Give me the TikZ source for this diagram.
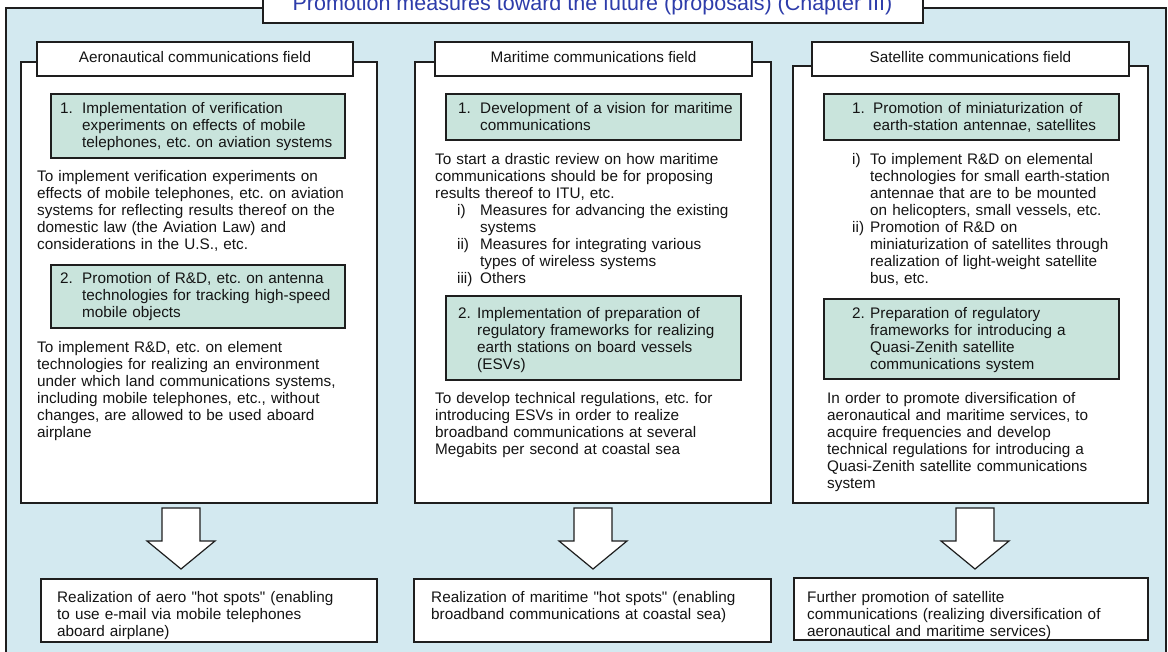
\documentclass[tikz,border=0pt]{standalone}
\usepackage{fontspec}
\setmainfont{Liberation Sans}
\definecolor{panelblue}{RGB}{211,233,240}
\definecolor{greenbox}{RGB}{201,228,220}
\definecolor{titleblue}{RGB}{45,60,170}
\definecolor{ink}{RGB}{20,20,20}
\definecolor{edge}{RGB}{30,30,30}
\newcommand{\bodyfont}{\fontsize{15.3}{17}\selectfont\frenchspacing}
\newcommand{\dq}{\XeTeXglyph\XeTeXglyphindex "quotedbl"\relax}
\begin{document}
\frenchspacing
\begin{tikzpicture}[x=1pt,y=-1pt,
  panel/.style={fill=panelblue,draw=edge,line width=1.2pt},
  box/.style={fill=white,draw=edge,line width=1.2pt},
  gbox/.style={fill=greenbox,draw=edge,line width=1.2pt},
  hdr/.style={fill=white,draw=edge,line width=1.2pt,font=\bodyfont,text=ink,
    minimum height=34pt,inner sep=0pt,text height=11pt,text depth=3pt},
  txt/.style={anchor=north west,inner sep=0pt,font=\bodyfont,text=ink,align=left,
    text width=400pt,execute at begin node={\rule{0pt}{13pt}}},
  barrow/.pic={\draw[box] (-19,0) -- (-19,33) -- (-34,33) -- (0,61) -- (34,33) -- (19,33) -- (19,0) -- cycle;}
]
\useasboundingbox (0,0) rectangle (1168,652);
% panel and title
\draw[panel] (6,8) rectangle (1166,670);
\draw[box] (263,-5) rectangle (923,23);
\node[anchor=base,inner sep=0pt,font=\fontsize{21.5}{24}\selectfont,text=titleblue] (title) at (592.5,11)
  {Promotion measures toward the future (proposals) (Chapter III)};

% ---------------- Aeronautical ----------------
\draw[box] (21,62) rectangle (377,503);
\node[hdr,minimum width=316pt] (hA) at (195,59) {Aeronautical communications field};
\draw[gbox] (51,94) rectangle (345,158);
\node[txt] (a1n) at (60,100) {1.};
\node[txt] (a1t) at (82,100) {Implementation of verification\\experiments on effects of mobile\\telephones, etc. on aviation systems};
\node[txt] (a1p) at (37,168) {To implement verification experiments on\\effects of mobile telephones, etc. on aviation\\systems for reflecting results thereof on the\\domestic law (the Aviation Law) and\\considerations in the U.S., etc.};
\draw[gbox] (51,265) rectangle (345,328);
\node[txt] (a2n) at (60,270) {2.};
\node[txt] (a2t) at (82,270) {Promotion of R\&D, etc. on antenna\\technologies for tracking high-speed\\mobile objects};
\node[txt] (a2p) at (37,339) {To implement R\&D, etc. on element\\technologies for realizing an environment\\under which land communications systems,\\including mobile telephones, etc., without\\changes, are allowed to be used aboard\\airplane};
\pic at (181,508) {barrow};
\draw[box] (41,579) rectangle (377,642);
\node[txt] (aR) at (57,589) {Realization of aero \dq hot spots\dq\ (enabling\\to use e-mail via mobile telephones\\aboard airplane)};

% ---------------- Maritime ----------------
\draw[box] (415,62) rectangle (771,503);
\node[hdr,minimum width=317pt] (hM) at (593.5,59) {Maritime communications field};
\draw[gbox] (446,94) rectangle (741,140);
\node[txt] (m1n) at (458,100) {1.};
\node[txt] (m1t) at (480,100) {Development of a vision for maritime\\communications};
\node[txt] (m1p) at (435,151) {To start a drastic review on how maritime\\communications should be for proposing\\results thereof to ITU, etc.};
\node[txt] (mi) at (457,202) {i)};
\node[txt] (mit) at (480,202) {Measures for advancing the existing\\systems};
\node[txt] (mii) at (457,236) {ii)};
\node[txt] (miit) at (480,236) {Measures for integrating various\\types of wireless systems};
\node[txt] (miii) at (457,270) {iii)};
\node[txt] (miiit) at (480,270) {Others};
\draw[gbox] (446,296) rectangle (741,380);
\node[txt] (m2n) at (458,305) {2.};
\node[txt] (m2t) at (477,305) {Implementation of preparation of\\regulatory frameworks for realizing\\earth stations on board vessels\\(ESVs)};
\node[txt] (m2p) at (435,390) {To develop technical regulations, etc. for\\introducing ESVs in order to realize\\broadband communications at several\\Megabits per second at coastal sea};
\pic at (593,508) {barrow};
\draw[box] (414,579) rectangle (771,642);
\node[txt] (mR) at (431,589) {Realization of maritime \dq hot spots\dq\ (enabling\\broadband communications at coastal sea)};

% ---------------- Satellite ----------------
\draw[box] (793,66) rectangle (1148,503);
\node[hdr,minimum width=317pt] (hS) at (970.5,59) {Satellite communications field};
\draw[gbox] (824,94) rectangle (1119,140);
\node[txt] (s1n) at (852,100) {1.};
\node[txt] (s1t) at (873,100) {Promotion of miniaturization of\\earth-station antennae, satellites};
\node[txt] (si) at (852,151) {i)};
\node[txt] (sit) at (870,151) {To implement R\&D on elemental\\technologies for small earth-station\\antennae that are to be mounted\\on helicopters, small vessels, etc.};
\node[txt] (sii) at (852,219) {ii)};
\node[txt] (siit) at (870,219) {Promotion of R\&D on\\miniaturization of satellites through\\realization of light-weight satellite\\bus, etc.};
\draw[gbox] (824,299) rectangle (1119,379);
\node[txt] (s2n) at (852,305) {2.};
\node[txt] (s2t) at (870,305) {Preparation of regulatory\\frameworks for introducing a\\Quasi-Zenith satellite\\communications system};
\node[txt] (s2p) at (827,390) {In order to promote diversification of\\aeronautical and maritime services, to\\acquire frequencies and develop\\technical regulations for introducing a\\Quasi-Zenith satellite communications\\system};
\pic at (975,508) {barrow};
\draw[box] (794,578) rectangle (1148,640);
\node[txt] (sR) at (807,589) {Further promotion of satellite\\communications (realizing diversification of\\aeronautical and maritime services)};
\end{tikzpicture}
\end{document}
